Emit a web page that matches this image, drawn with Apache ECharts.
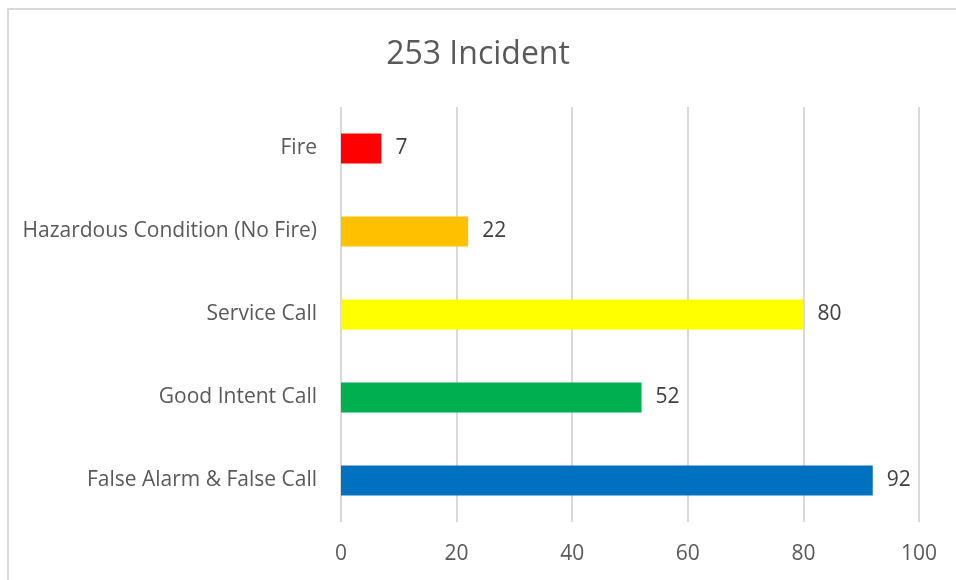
<!DOCTYPE html>
<html>
<head>
<meta charset="utf-8">
<script src="https://cdn.jsdelivr.net/npm/echarts@6/dist/echarts.min.js"></script>
<style>
  html, body { margin: 0; padding: 0; background: #fff; overflow: hidden; }
  #frame { position: absolute; left: 7px; top: 8px; width: 980px; height: 600px; border: 2px solid #d9d9d9; box-sizing: border-box; }
  #main { position: absolute; left: 0; top: 0; width: 956px; height: 580px; }
</style>
</head>
<body>
<div id="frame"></div>
<div id="main"></div>
<script>
// chart data
var categories = ['Fire', 'Hazardous Condition (No Fire)', 'Service Call', 'Good Intent Call', 'False Alarm & False Call'];
var counts = [7, 22, 80, 52, 92];
var barColors = ['#ff0000', '#ffc000', '#ffff00', '#00b050', '#0070c0'];
var xTicks = [0, 20, 40, 60, 80, 100];

var font = 'Open Sans, Liberation Sans, sans-serif';
var chart = echarts.init(document.getElementById('main'));
chart.setOption({
  backgroundColor: 'transparent',
  animation: false,
  title: {
    text: '253 Incident',
    left: 'center',
    top: 34,
    textStyle: { fontFamily: font, fontSize: 32, fontWeight: 'normal', color: '#595959' }
  },
  grid: { left: 341, right: 37, top: 107, bottom: 58 },
  xAxis: {
    type: 'value',
    min: xTicks[0],
    max: xTicks[xTicks.length - 1],
    interval: 20,
    axisLine: { show: false },
    axisTick: { show: false },
    splitLine: { lineStyle: { color: '#d9d9d9', width: 2 } },
    axisLabel: { fontFamily: font, fontSize: 21, color: '#595959', margin: 22 }
  },
  yAxis: {
    type: 'category',
    inverse: true,
    data: categories,
    axisLine: { show: false },
    axisTick: { show: false },
    axisLabel: { fontFamily: font, fontSize: 21, color: '#595959', margin: 24, padding: [6, 0, 0, 0] }
  },
  series: [{
    type: 'bar',
    barWidth: 30,
    data: counts.map(function (v, i) {
      return { value: v, itemStyle: { color: barColors[i] } };
    }),
    label: {
      show: true,
      position: 'right',
      distance: 14,
      fontFamily: font,
      fontSize: 21,
      color: '#404040',
      padding: [6, 0, 0, 0]
    }
  }]
});
</script>
</body>
</html>
